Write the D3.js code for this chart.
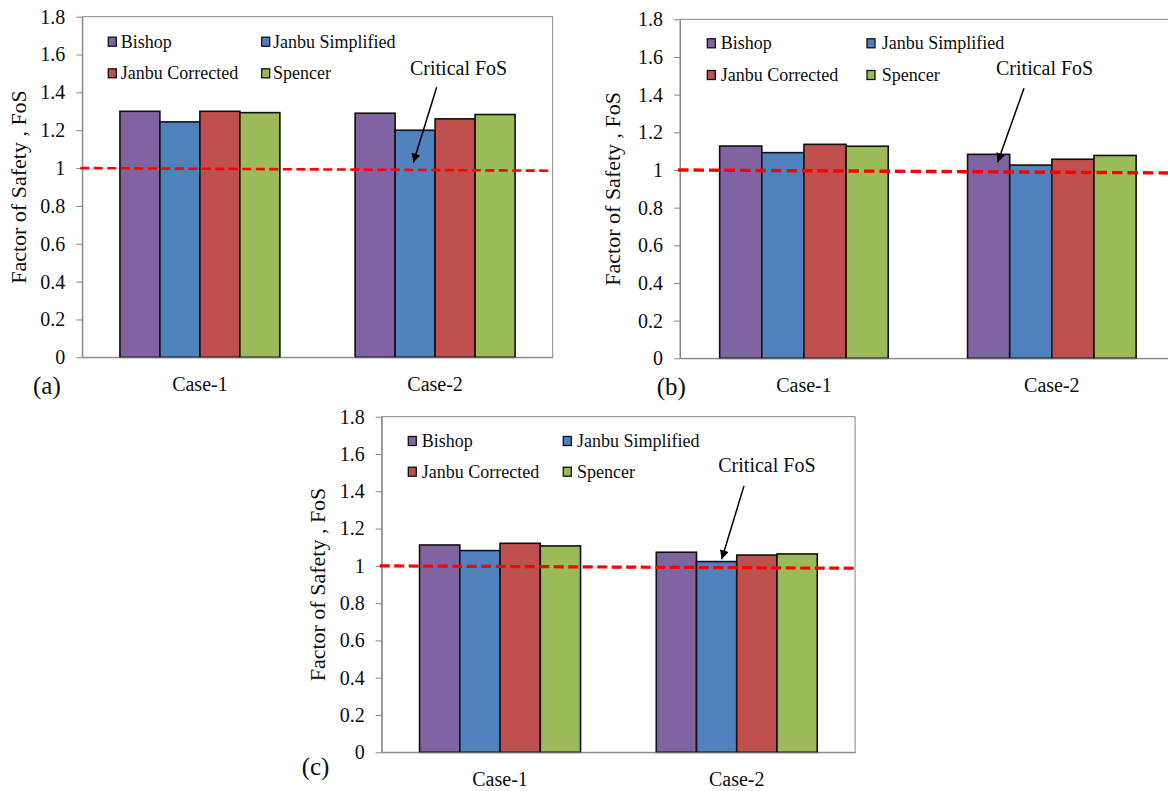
<!DOCTYPE html>
<html><head><meta charset="utf-8">
<script src="https://cdn.jsdelivr.net/npm/d3@7/dist/d3.min.js"></script>
<style>
body{margin:0;background:#fff}
svg{display:block}
</style>
</head><body>
<svg id="chart" width="1168" height="791"></svg>
<script>
// ---------------- DATA ----------------
const categories = ["Case-1", "Case-2"];
const seriesNames = ["Bishop", "Janbu Simplified", "Janbu Corrected", "Spencer"];
const seriesColors = ["#8064A2", "#4F81BD", "#C0504D", "#9BBB59"];
const yTicks = [0, 0.2, 0.4, 0.6, 0.8, 1, 1.2, 1.4, 1.6, 1.8];
const yTickLabels = ["0", "0.2", "0.4", "0.6", "0.8", "1", "1.2", "1.4", "1.6", "1.8"];
// FoS per category (rows: Case-1, Case-2; columns: Bishop, Janbu Simplified, Janbu Corrected, Spencer)
const fosA = [[1.30, 1.244, 1.30, 1.293], [1.29, 1.20, 1.26, 1.283]];
const fosB = [[1.127, 1.092, 1.136, 1.126], [1.083, 1.026, 1.057, 1.077]];
const fosC = [[1.112, 1.082, 1.121, 1.107], [1.073, 1.023, 1.058, 1.064]];
// Critical FoS dashed line: value at left end, value at right end
const criticalA = [1.0, 0.986];
const criticalB = [1.0, 0.984];
const criticalC = [1.0, 0.987];
const panelLabels = ["(a)", "(b)", "(c)"];
const yTitle = "Factor of Safety , FoS";
const annotationText = "Critical FoS";

// ---------------- LAYOUT ----------------
const FONT = "Liberation Serif";
const layouts = [
  {data: fosA, crit: criticalA, label: panelLabels[0],
   left: 82.3, top: 16.7, width: 470.4, height: 340.6,
   labelX: 33, labelY: 394, titleX: 26,
   legMark: [26, 179.4], legText: [38.4, 190.7], legRows: [25, 56.6],
   ann: {textX: 0.6966, textV: 1.527, tailX: 0.7534, tailV: 1.427, tipX: 0.7037, tipV: 1.029},
   dash: {w: 2.6, pattern: "9,4.5"}},
  {data: fosB, crit: criticalB, label: panelLabels[1],
   left: 680, top: 19.3, width: 495.8, height: 339,
   labelX: 656.7, labelY: 395, titleX: 620,
   legMark: [27.3, 187], legText: [40.7, 201.7], legRows: [24, 55.7],
   ann: {textX: 0.6374, textV: 1.540, tailX: 0.6938, tailV: 1.434, tipX: 0.6408, tipV: 1.041},
   dash: {w: 3.4, pattern: "10.5,5"}},
  {data: fosC, crit: criticalC, label: panelLabels[2],
   left: 381.7, top: 416.7, width: 473.4, height: 335.6,
   labelX: 301.7, labelY: 775, titleX: 325,
   legMark: [26.6, 181.6], legText: [40, 195.3], legRows: [24.3, 55],
   ann: {textX: 0.711, textV: 1.538, tailX: 0.7653, tailV: 1.429, tipX: 0.7182, tipV: 1.035},
   dash: {w: 3.2, pattern: "10,4.5"}}
];

const svg = d3.select("#chart");
const defs = svg.append("defs");
defs.append("marker").attr("id", "arrowhead")
  .attr("viewBox", "0 0 10 10").attr("refX", 10).attr("refY", 5)
  .attr("markerWidth", 11).attr("markerHeight", 9).attr("markerUnits", "userSpaceOnUse")
  .attr("orient", "auto")
  .append("path").attr("d", "M0,0 L10,5 L0,10 Z").attr("fill", "#000");

const axisGray = "#868686";
const textColor = "#0d0d0d";

layouts.forEach(L => {
  const g = svg.append("g").attr("transform", `translate(${L.left},${L.top})`);
  const y = d3.scaleLinear().domain([0, 1.8]).range([L.height, 0]);
  const x0 = d3.scaleBand().domain(categories).range([0, L.width]).paddingInner(0.32).paddingOuter(0.16);
  const x1 = d3.scaleBand().domain(seriesNames).range([0, x0.bandwidth()]);
  const xf = d3.scaleLinear().domain([0, 1]).range([0, L.width]);

  // plot frame (top/right)
  g.append("rect").attr("x", 0).attr("y", 0).attr("width", L.width).attr("height", L.height)
    .attr("fill", "none").attr("stroke", axisGray).attr("stroke-width", 1);

  // bars
  const groups = g.selectAll("g.cat").data(L.data).join("g").attr("class", "cat")
    .attr("transform", (d, i) => `translate(${x0(categories[i])},0)`);
  groups.selectAll("rect").data(d => d.map((v, j) => ({v, j}))).join("rect")
    .attr("x", d => x1(seriesNames[d.j]))
    .attr("y", d => y(d.v))
    .attr("width", x1.bandwidth())
    .attr("height", d => y(0) - y(d.v))
    .attr("fill", d => seriesColors[d.j])
    .attr("stroke", "#111").attr("stroke-width", 1.6);

  // y axis
  const yAxis = d3.axisLeft(y).tickValues(yTicks)
    .tickFormat((d, i) => yTickLabels[i]).tickSizeInner(6).tickSizeOuter(0).tickPadding(11);
  const ya = g.append("g").call(yAxis).attr("font-family", FONT);
  ya.select(".domain").attr("stroke", axisGray);
  ya.selectAll(".tick line").attr("stroke", axisGray);
  ya.selectAll(".tick text").attr("font-size", 20);

  // x axis
  const xAxis = d3.axisBottom(x0).tickSize(0).tickPadding(0);
  const xa = g.append("g").attr("transform", `translate(0,${L.height})`).call(xAxis).attr("font-family", FONT);
  xa.select(".domain").attr("stroke", axisGray);
  xa.selectAll(".tick text").attr("font-size", 20).attr("y", 34).attr("dy", 0);

  // critical FoS dashed line
  const line = d3.line().x((d, i) => xf(i) + (i === 0 ? -2 : 0)).y(d => y(d));
  g.append("path").datum(L.crit).attr("d", line)
    .attr("fill", "none").attr("stroke", "#FF0000")
    .attr("stroke-width", L.dash.w).attr("stroke-dasharray", L.dash.pattern);

  // legend
  seriesNames.forEach((name, j) => {
    const col = j % 2, row = Math.floor(j / 2);
    const cy = L.legRows[row];
    g.append("rect").attr("x", L.legMark[col]).attr("y", cy - 4.5)
      .attr("width", 8).attr("height", 9)
      .attr("fill", seriesColors[j]).attr("stroke", "#111").attr("stroke-width", 1.3);
    g.append("text").attr("x", L.legText[col]).attr("y", cy + 6.2)
      .attr("font-size", 18).text(name);
  });

  // annotation
  g.append("text").attr("x", xf(L.ann.textX)).attr("y", y(L.ann.textV) + 6.8)
    .attr("font-size", 20).text(annotationText);
  g.append("line")
    .attr("x1", xf(L.ann.tailX)).attr("y1", y(L.ann.tailV))
    .attr("x2", xf(L.ann.tipX)).attr("y2", y(L.ann.tipV))
    .attr("stroke", "#000").attr("stroke-width", 1.5)
    .attr("marker-end", "url(#arrowhead)");

  // y title
  svg.append("text")
    .attr("transform", `translate(${L.titleX},${L.top + L.height / 2}) rotate(-90)`)
    .attr("text-anchor", "middle").attr("font-size", 22).text(yTitle);

  // panel label
  svg.append("text").attr("x", L.labelX).attr("y", L.labelY)
    .attr("font-size", 25).text(L.label);
});

svg.selectAll("text").attr("font-family", FONT).style("font-family", FONT).attr("fill", textColor);
</script>
</body></html>
